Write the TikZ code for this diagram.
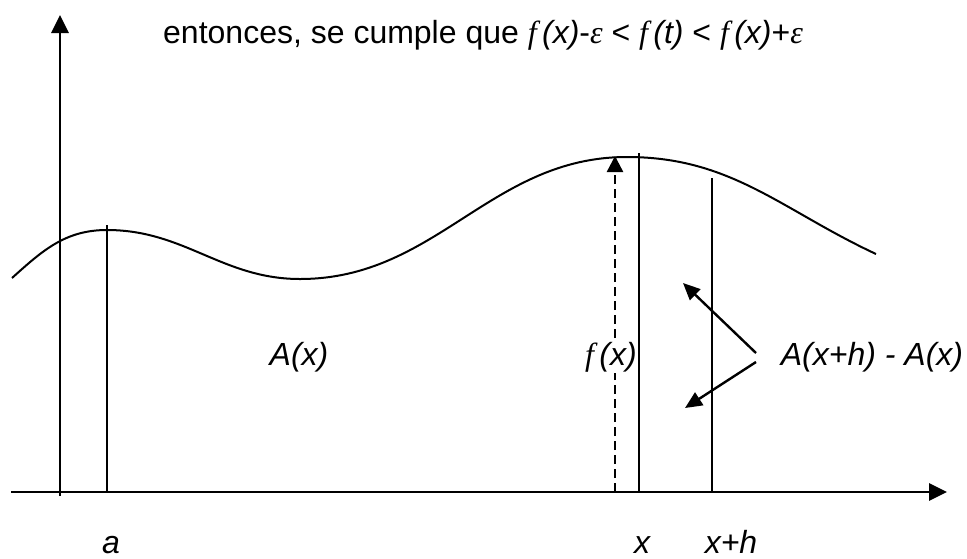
\documentclass[tikz,border=0pt]{standalone}
\usepackage{fontspec}
\setmainfont{Liberation Sans}
\newfontfamily\timesf{Liberation Serif}
\usetikzlibrary{arrows.meta}
\tikzset{
  axis/.style={line width=2.8pt, -{Triangle[length=18pt,width=17pt]}},
  curve/.style={line width=2pt},
  ordinate/.style={line width=1.8pt},
  fline/.style={line width=2.4pt, dash pattern=on 9pt off 5pt, -{Triangle[length=16pt,width=16pt]}},
  arr/.style={line width=2.4pt, -{Triangle[length=17pt,width=15pt]}},
  lbl/.style={anchor=base, inner sep=0pt, font=\fontsize{32}{38}\selectfont\itshape}
}
\newcommand{\fn}{{\timesf\itshape f}\,}
\newcommand{\eps}{{\timesf\itshape ε}}

\begin{document}
\begin{tikzpicture}[x=1pt, y=-1pt]
\useasboundingbox (0,0) rectangle (967,558);
\coordinate (y0) at (60,496); \coordinate (y1) at (60,15);
\coordinate (x0) at (11,492); \coordinate (x1) at (947,492);
\coordinate (a0) at (107,492); \coordinate (a1) at (107,225);
\coordinate (f0) at (615,492); \coordinate (f1) at (615,156);
\coordinate (s0) at (639,492); \coordinate (s1) at (639,153);
\coordinate (h0) at (712,492); \coordinate (h1) at (712,178);
\coordinate (p1) at (756,353); \coordinate (q1) at (683,283);
\coordinate (p2) at (756,362); \coordinate (q2) at (685,408);
\node[lbl, anchor=base west, font=\fontsize{32}{38}\selectfont] (top) at (163,43) {entonces, se cumple que \fn\textit{(x)}-\eps{} < \fn\textit{(t)} < \fn\textit{(x)}+\eps};
\draw[axis] (y0)--(y1); \draw[axis] (x0)--(x1);
\draw[curve] (12,278) to[out=42,in=180] (107,230) to[out=0,in=180] (300,279) to[out=0,in=180] (627,157) to[out=0,in=155] (876,254);
\draw[fline] (f0)--(f1);
\node[lbl, fill=white, inner sep=1pt] (lf) at (611,365) {\fn(x)};
\draw[ordinate] (a0)--(a1); \draw[ordinate] (s0)--(s1); \draw[ordinate] (h0)--(h1);
\node[lbl] (lA) at (299,365) {A(x)};
\node[lbl] (ldif) at (872,365) {A(x+h) - A(x)};
\draw[arr] (p1)--(q1); \draw[arr] (p2)--(q2);
\node[lbl] (la) at (111,553) {a};
\node[lbl] (lx) at (642,553) {x};
\node[lbl] (lxh) at (731,553) {x+h};
\end{tikzpicture}
\end{document}
